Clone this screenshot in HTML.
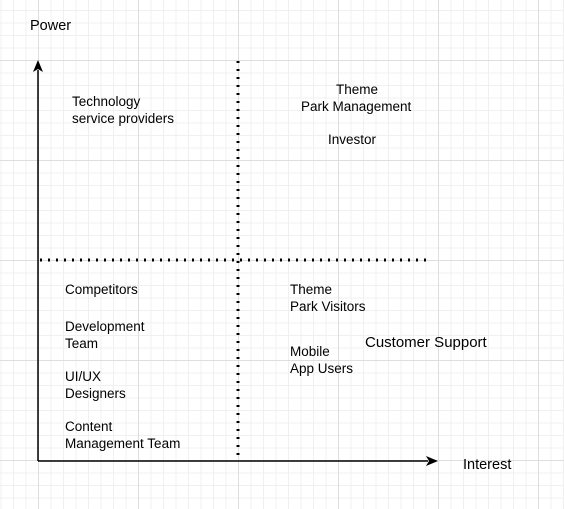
<!DOCTYPE html>
<html><head><style>
html,body{margin:0;padding:0}
body{width:564px;height:509px;position:relative;overflow:hidden;background-color:#fff;
background-image:
linear-gradient(to right,#dedede 1px,transparent 1px),
linear-gradient(to bottom,#dedede 1px,transparent 1px),
linear-gradient(to right,#f0f0f0 1px,transparent 1px),
linear-gradient(to bottom,#f0f0f0 1px,transparent 1px);
background-size:100px 100px,100px 100px,12.5px 12.5px,12.5px 12.5px;
background-position:38px 60px,38px 60px,38px 60px,38px 60px;
font-family:"Liberation Sans",Arial,sans-serif;font-size:13.5px;color:#000}
.t{position:absolute;line-height:17px;white-space:nowrap}
svg{position:absolute;left:0;top:0}
</style></head><body>
<svg width="564" height="509">
<line x1="38" y1="461" x2="38" y2="70" stroke="#000" stroke-width="1.5"/>
<polygon points="38,60 33,72 38,69 43,72" fill="#000"/>
<line x1="38" y1="461" x2="428" y2="461" stroke="#000" stroke-width="1.5"/>
<polygon points="438,461 426,456 429,461 426,466" fill="#000"/>
<line x1="238" y1="61" x2="238" y2="455" stroke="#000" stroke-width="3" stroke-dasharray="2,6"/>
<line x1="40" y1="260" x2="432" y2="260" stroke="#000" stroke-width="3" stroke-dasharray="2,6"/>
</svg>
<div class="t" style="left:30px;top:18px;font-size:14.5px">Power</div>
<div class="t" style="left:463px;top:457px;font-size:14.5px">Interest</div>
<div class="t" style="left:72px;top:93px">Technology<br>service providers</div>
<div class="t" style="left:336px;top:81px">Theme</div>
<div class="t" style="left:301px;top:98px">Park Management</div>
<div class="t" style="left:328px;top:131px">Investor</div>
<div class="t" style="left:65px;top:281px">Competitors</div>
<div class="t" style="left:65px;top:318px">Development<br>Team</div>
<div class="t" style="left:65px;top:368px">UI/UX<br>Designers</div>
<div class="t" style="left:65px;top:418px">Content<br>Management Team</div>
<div class="t" style="left:290px;top:281px">Theme<br>Park Visitors</div>
<div class="t" style="left:290px;top:343px">Mobile<br>App Users</div>
<div class="t" style="left:365px;top:334px;font-size:15px">Customer Support</div>
</body></html>
